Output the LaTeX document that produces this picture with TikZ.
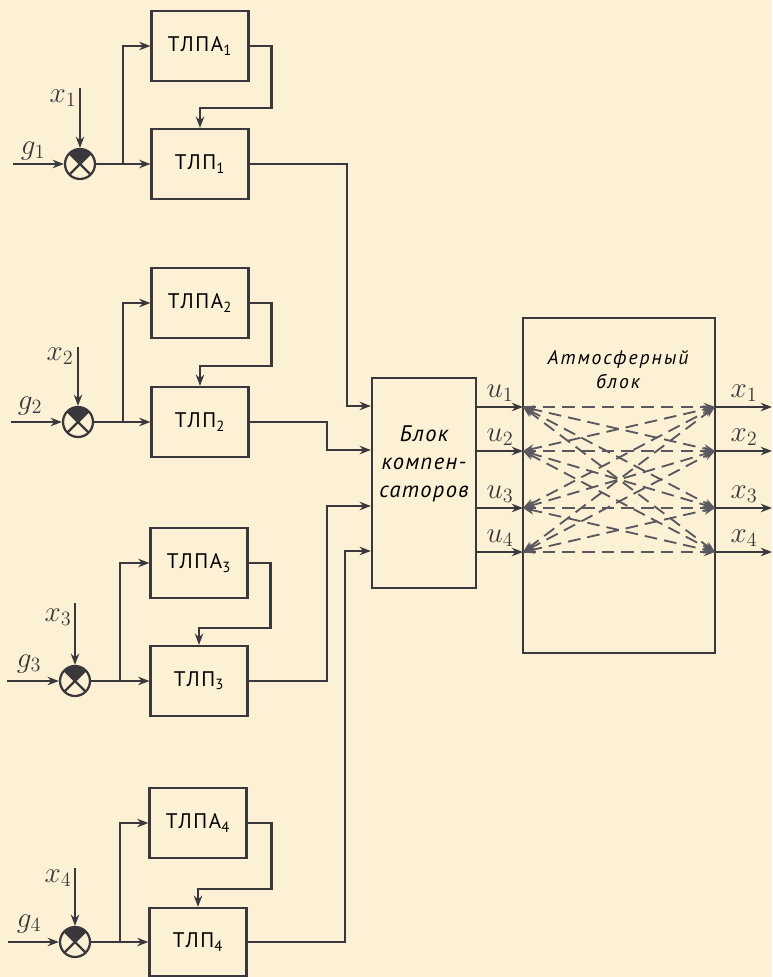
\documentclass[tikz,border=0pt]{standalone}
\usepackage{fontspec}
\setmainfont{PT Sans}
\usepackage{tikz}
\usetikzlibrary{arrows.meta, calc}
\definecolor{ink}{RGB}{58,56,60}
\definecolor{dashgray}{RGB}{88,88,94}
\definecolor{paper}{RGB}{252,241,212}
\tikzset{
  blk/.style={rectangle, draw=ink, fill=paper,
    minimum width=2.42cm, minimum height=1.75cm,
    font=\fontsize{15}{17}\selectfont\addfontfeatures{LetterSpace=8}, line width=1.6pt},
  bigblk/.style={rectangle, draw=ink, fill=paper,
    line width=1.6pt},
  boxtext/.style={align=center, font=\fontsize{16}{20}\selectfont\itshape\addfontfeatures{LetterSpace=6}},
  sumjunc/.style={circle, draw=ink, fill=paper, minimum size=0.75cm,
    line width=1.6pt,
    path picture={
      \fill[ink] (path picture bounding box.center) -- +(135:1cm) -- +(45:1cm) -- cycle;
      \draw[ink, line width=1.6pt] (path picture bounding box.north west) -- (path picture bounding box.south east)
        (path picture bounding box.north east) -- (path picture bounding box.south west);
    }},
  lbl/.style={font=\fontsize{20}{22}\selectfont, text=ink},
  arrow/.style={-{Stealth[length=8pt, width=6pt]}, line width=1.6pt, color=ink},
  line/.style={line width=1.6pt, color=ink},
  crossarrow/.style={{Stealth[length=8pt, width=6pt]}-{Stealth[length=8pt, width=6pt]},
    line width=1.3pt, color=dashgray, dash pattern=on 9pt off 5pt},
  straightarrow/.style={-{Stealth[length=8pt, width=6pt]},
    line width=1.3pt, color=dashgray, dash pattern=on 9pt off 5pt}
}
\begin{document}
\begin{tikzpicture}[x=0.025cm, y=-0.025cm]
  \fill[paper] (0,0) rectangle (772,977);
  \useasboundingbox (0,0) rectangle (772,977);

  % channel 1
  \node[blk] (tlpa1) at (200,46) {ТЛПА\textsubscript{1}};
  \node[blk] (tlp1) at (200,164) {ТЛП\textsubscript{1}};
  \node[sumjunc] (s1) at (80,164) {};
  \coordinate (g1in) at (13,164);
  \coordinate (x1in) at (80,88);
  \coordinate (b1) at (123,164);
  \node[lbl] (lg1) at (33,151) {$g_1$};
  \node[lbl] (lx1) at (63,98) {$x_1$};
  \draw[arrow] (g1in) -- (s1);
  \draw[arrow] (x1in) -- (s1);
  \draw[arrow] (s1) -- (tlp1);
  \draw[arrow] (b1) |- (tlpa1);
  \draw[arrow] (tlpa1.east) -- ++(22,0) |- ($(tlp1.north)+(0,-20)$) -- (tlp1.north);

  % channel 2
  \node[blk] (tlpa2) at (200,303) {ТЛПА\textsubscript{2}};
  \node[blk] (tlp2) at (200,422) {ТЛП\textsubscript{2}};
  \node[sumjunc] (s2) at (78,422) {};
  \coordinate (g2in) at (11,422);
  \coordinate (x2in) at (78,347);
  \coordinate (b2) at (123,422);
  \node[lbl] (lg2) at (30,406) {$g_2$};
  \node[lbl] (lx2) at (60,356) {$x_2$};
  \draw[arrow] (g2in) -- (s2);
  \draw[arrow] (x2in) -- (s2);
  \draw[arrow] (s2) -- (tlp2);
  \draw[arrow] (b2) |- (tlpa2);
  \draw[arrow] (tlpa2.east) -- ++(22,0) |- ($(tlp2.north)+(0,-20)$) -- (tlp2.north);

  % channel 3
  \node[blk] (tlpa3) at (199,563) {ТЛПА\textsubscript{3}};
  \node[blk] (tlp3) at (199,681) {ТЛП\textsubscript{3}};
  \node[sumjunc] (s3) at (75,681) {};
  \coordinate (g3in) at (7,681);
  \coordinate (x3in) at (75,603);
  \coordinate (b3) at (120,681);
  \node[lbl] (lg3) at (29,664) {$g_3$};
  \node[lbl] (lx3) at (58,617) {$x_3$};
  \draw[arrow] (g3in) -- (s3);
  \draw[arrow] (x3in) -- (s3);
  \draw[arrow] (s3) -- (tlp3);
  \draw[arrow] (b3) |- (tlpa3);
  \draw[arrow] (tlpa3.east) -- ++(22,0) |- ($(tlp3.north)+(0,-17)$) -- (tlp3.north);

  % channel 4
  \node[blk] (tlpa4) at (198,823) {ТЛПА\textsubscript{4}};
  \node[blk, minimum height=1.7cm] (tlp4) at (198,942) {ТЛП\textsubscript{4}};
  \node[sumjunc] (s4) at (75,942) {};
  \coordinate (g4in) at (8,942);
  \coordinate (x4in) at (75,868);
  \coordinate (b4) at (120,942);
  \node[lbl] (lg4) at (29,924) {$g_4$};
  \node[lbl] (lx4) at (58,878) {$x_4$};
  \draw[arrow] (g4in) -- (s4);
  \draw[arrow] (x4in) -- (s4);
  \draw[arrow] (s4) -- (tlp4);
  \draw[arrow] (b4) |- (tlpa4);
  \draw[arrow] (tlpa4.east) -- ++(24,0) |- ($(tlp4.north)+(0,-18)$) -- (tlp4.north);

  % compensators
  \node[bigblk, minimum width=2.6cm, minimum height=5.25cm] (bk) at (424,483) {};
  \node[boxtext] (bkt) at (424,464) {Блок\\компен-\\саторов};
  \coordinate (k1) at (347,406);
  \coordinate (k2) at (327,450);
  \coordinate (k3) at (327,506);
  \coordinate (k4) at (345,551);
  \draw[arrow] (tlp1.east) -| (k1) -- (k1 -| bk.west);
  \draw[arrow] (tlp2.east) -| (k2) -- (k2 -| bk.west);
  \draw[arrow] (tlp3.east) -| (k3) -- (k3 -| bk.west);
  \draw[arrow] (tlp4.east) -| (k4) -- (k4 -| bk.west);

  % atmosphere
  \node[bigblk, minimum width=4.8cm, minimum height=8.375cm] (atm) at (619,485.5) {};
  \node[boxtext, font=\fontsize{14}{17}\selectfont\itshape\addfontfeatures{LetterSpace=10}] (atmt) at (618,370) {Атмосферный\\блок};
  \coordinate (ul1) at (523,407);
  \coordinate (ul2) at (523,451);
  \coordinate (ul3) at (523,508);
  \coordinate (ul4) at (523,552);
  \coordinate (ur1) at (715,407);
  \coordinate (ur2) at (715,451);
  \coordinate (ur3) at (715,508);
  \coordinate (ur4) at (715,552);
  \coordinate (xo1) at (772,407);
  \coordinate (xo2) at (772,451);
  \coordinate (xo3) at (772,508);
  \coordinate (xo4) at (772,552);

  \foreach \i in {1,...,4} {
    \draw[arrow] (bk.east |- ul\i) -- (ul\i);
    \draw[arrow] (ur\i) -- (xo\i);
    \foreach \j in {1,...,4} {
      \ifnum\i=\j
        \draw[straightarrow] (ul\i) -- (ur\j);
      \else
        \draw[crossarrow] (ul\i) -- (ur\j);
      \fi
    }
  }

  \node[lbl] (lu1) at (500,393) {$u_1$};
  \node[lbl] (lu2) at (500,437) {$u_2$};
  \node[lbl] (lu3) at (500,494) {$u_3$};
  \node[lbl] (lu4) at (500,538) {$u_4$};
  \node[lbl] (lxo1) at (744,393) {$x_1$};
  \node[lbl] (lxo2) at (744,437) {$x_2$};
  \node[lbl] (lxo3) at (744,494) {$x_3$};
  \node[lbl] (lxo4) at (744,538) {$x_4$};
\end{tikzpicture}
\end{document}
